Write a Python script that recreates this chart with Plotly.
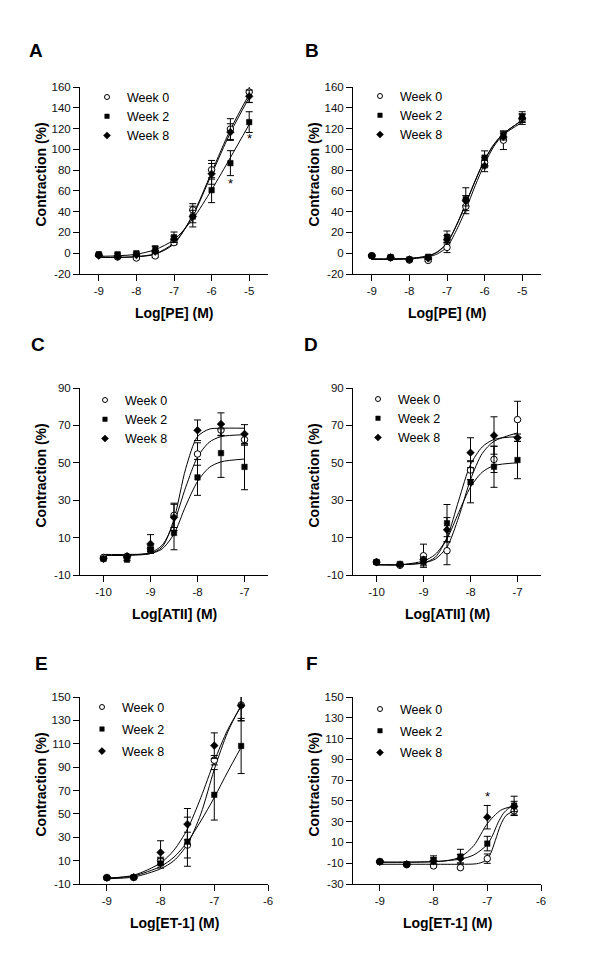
import plotly.graph_objects as go

W, H = 600, 959
FONT = "Arial, Liberation Sans, Helvetica, sans-serif"
WEEKS = ["Week 0", "Week 2", "Week 8"]

# ---------------- Panel A : PE ----------------
A_x = [-9, -8.5, -8, -7.5, -7, -6.5, -6, -5.5, -5]
A_w0 = [-1.7, -3.6, -4.6, -2.6, 10.2, 41.7, 80.3, 119.5, 155.2]
A_w2 = [-1.0, -1.0, 0.0, 4.7, 15.4, 35.3, 60.7, 86.7, 126.2]
A_w8 = [-2.3, -3.3, -1.7, 1.5, 13.4, 35.3, 76.4, 116.6, 151.0]
A_e0 = [1, 1, 1, 1.5, 2, 6, 9, 10, 10]
A_e2 = [1, 1, 1, 2, 5, 6, 12, 12, 10]
A_e8 = [1, 1, 1, 1.5, 3, 10, 10, 8, 6]
A_fx = [-9, -8.5, -8, -7.5, -7, -6.5, -6, -5.5, -5]
A_f0 = [-4, -4, -3.5, -1, 9, 37, 78, 119, 153]
A_f2 = [-3, -2.5, -1, 3.5, 13, 33, 61, 92, 124]
A_f8 = [-4, -4, -3.2, -0.5, 10, 36, 76, 116, 150]

# ---------------- Panel B : PE ----------------
B_x = [-9, -8.5, -8, -7.5, -7, -6.5, -6, -5.5, -5]
B_w0 = [-2.4, -4.3, -6.6, -6.9, 5.6, 45.0, 87.3, 108.8, 129.0]
B_w2 = [-2.4, -3.7, -5.9, -3.4, 15.9, 52.0, 92.0, 113.9, 131.2]
B_w8 = [-2.5, -4.0, -6.0, -5.0, 13.0, 50.5, 84.0, 112.0, 130.0]
B_e0 = [1, 1, 1, 1, 5, 7, 5, 9, 5]
B_e2 = [1, 1, 1, 1, 5.5, 11, 6.5, 3, 5]
B_e8 = [1, 1, 1, 1, 4, 5, 5.5, 3, 4]
B_fx = [-9, -8.5, -8, -7.5, -7.25, -7, -6.75, -6.5, -6.25, -6, -5.75, -5.5, -5]
B_f0 = [-6, -6, -5.5, -3.5, -0.5, 6, 22, 42, 65, 86, 103, 114, 126]
B_f2 = [-5.5, -5.5, -5, -2.5, 1.5, 10, 27, 48, 70, 90, 105, 115, 128]
B_f8 = [-5.5, -5.5, -5, -2.7, 1.2, 9.5, 26.5, 47.5, 69.5, 89.5, 104.5, 115, 128]

# ---------------- Panel C : ATII ----------------
C_x = [-10, -9.5, -9, -8.5, -8, -7.5, -7]
C_w0 = [-0.6, 0.0, 4.1, 21.9, 54.7, 67.5, 62.4]
C_w2 = [-1.4, -1.8, 3.5, 12.5, 42.2, 55.2, 47.8]
C_w8 = [-1.3, 0.0, 6.6, 20.8, 67.4, 70.7, 65.4]
C_e0 = [0.5, 0.5, 1.5, 6.5, 6, 3, 3]
C_e2 = [0.5, 0.5, 1, 9, 9.6, 13, 12.2]
C_e8 = [0.5, 0.5, 5, 7, 5.5, 6, 5]
C_fx = [-10, -9.5, -9, -8.75, -8.5, -8.25, -8, -7.75, -7.5, -7]
C_f0 = [0.5, 0.6, 2, 6, 18, 37, 53, 61, 64, 65]
C_f2 = [1, 1, 1.5, 4, 12, 27, 40, 47.5, 50.5, 52]
C_f8 = [0.5, 0.5, 1.5, 5, 20, 47, 64, 68, 68.5, 68.5]

# ---------------- Panel D : ATII ----------------
D_x = [-10, -9.5, -9, -8.5, -8, -7.5, -7]
D_w0 = [-3.1, -4.8, 0.3, 3.0, 46.1, 51.8, 73.1]
D_w2 = [-3.1, -4.1, -3.1, 17.7, 39.6, 47.9, 51.5]
D_w8 = [-3.1, -4.5, -1.8, 14.2, 55.4, 64.6, 63.4]
D_e0 = [1, 0.5, 6.2, 7.5, 5, 7, 9.8]
D_e2 = [0.5, 0.5, 2, 10, 11, 11, 10]
D_e8 = [0.5, 0.5, 1.5, 6.5, 8, 10, 2]
D_fx = [-10, -9.5, -9, -8.75, -8.5, -8.25, -8, -7.75, -7.5, -7]
D_f0 = [-4.5, -4.5, -3.5, -1.5, 5, 21, 41, 55, 61.5, 66]
D_f2 = [-4.5, -4.5, -2.5, 1, 9.5, 23.5, 37, 45, 48.5, 50]
D_f8 = [-4.5, -4.5, -3.5, -0.5, 10, 30, 49, 58.5, 62.5, 64]

# ---------------- Panel E : ET-1 ----------------
E_x = [-9, -8.5, -8, -7.5, -7, -6.5]
E_w0 = [-4.6, -4.3, 9.9, 23.3, 95.9, 143.2]
E_w2 = [-4.6, -4.3, 7.6, 26.2, 66.3, 108.1]
E_w8 = [-4.6, -4.3, 17.0, 41.2, 108.4, 142.6]
E_e0 = [1, 1, 3, 11, 4, 13.5]
E_e2 = [1, 1, 4, 21, 21.6, 23.6]
E_e8 = [1, 1, 10, 13.4, 10.9, 13]
E_fx = [-9, -8.5, -8, -7.75, -7.5, -7.25, -7, -6.75, -6.5]
E_f0 = [-5.5, -4, 3, 10, 24, 50, 88, 120, 143]
E_f2 = [-5, -3, 5, 13, 26, 44, 64, 86, 107]
E_f8 = [-5, -2.5, 8, 19, 37, 64, 95, 122, 142]

# ---------------- Panel F : ET-1 ----------------
F_x = [-9, -8.5, -8, -7.5, -7, -6.5]
F_w0 = [-8.5, -11.4, -12.6, -14.3, -5.6, 40.4]
F_w2 = [-8.5, -11.0, -6.9, -3.6, 8.9, 45.5]
F_w8 = [-8.5, -11.0, -7.8, -5.6, 34.3, 44.6]
F_e0 = [1, 1, 1, 1, 4.5, 4.5]
F_e2 = [1, 1, 4, 7, 7, 9]
F_e8 = [1, 1, 3, 4, 11.3, 5]
F_f0x = [-9, -8, -7.5, -7.2, -7.05, -6.95, -6.85, -6.75, -6.65, -6.5]
F_f0 = [-11, -11, -11, -10.5, -8, -2, 12, 27, 36, 40.5]
F_f2x = [-9, -8.5, -8, -7.5, -7.25, -7, -6.9, -6.8, -6.7, -6.6, -6.5]
F_f2 = [-9, -9, -8.5, -6, -2, 8, 17, 29, 38, 43, 45.5]
F_f8x = [-9, -8.5, -8, -7.75, -7.5, -7.25, -7, -6.75, -6.5]
F_f8 = [-9, -9, -8.5, -7.5, -4, 7, 28, 41, 45]

# significance markers
A_star_x = [-5.5, -5.0]
A_star_y = [66.8, 110.8]
F_star_x = [-7.0]
F_star_y = [54.0]

panels = [
    dict(letter="A", xt="Log[PE] (M)", x=A_x, m=[A_w0, A_w2, A_w8], e=[A_e0, A_e2, A_e8],
         fx=[A_fx, A_fx, A_fx], f=[A_f0, A_f2, A_f8],
         xr=[-9.5, -4.5], xtv=[-9, -8, -7, -6, -5], yr=[-20, 160], ytv=list(range(-20, 161, 20)),
         stars=(A_star_x, A_star_y)),
    dict(letter="B", xt="Log[PE] (M)", x=B_x, m=[B_w0, B_w2, B_w8], e=[B_e0, B_e2, B_e8],
         fx=[B_fx, B_fx, B_fx], f=[B_f0, B_f2, B_f8],
         xr=[-9.5, -4.5], xtv=[-9, -8, -7, -6, -5], yr=[-20, 160], ytv=list(range(-20, 161, 20)),
         stars=None),
    dict(letter="C", xt="Log[ATII] (M)", x=C_x, m=[C_w0, C_w2, C_w8], e=[C_e0, C_e2, C_e8],
         fx=[C_fx, C_fx, C_fx], f=[C_f0, C_f2, C_f8],
         xr=[-10.5, -6.5], xtv=[-10, -9, -8, -7], yr=[-10, 90], ytv=[-10, 10, 30, 50, 70, 90],
         stars=None),
    dict(letter="D", xt="Log[ATII] (M)", x=D_x, m=[D_w0, D_w2, D_w8], e=[D_e0, D_e2, D_e8],
         fx=[D_fx, D_fx, D_fx], f=[D_f0, D_f2, D_f8],
         xr=[-10.5, -6.5], xtv=[-10, -9, -8, -7], yr=[-10, 90], ytv=[-10, 10, 30, 50, 70, 90],
         stars=None),
    dict(letter="E", xt="Log[ET-1] (M)", x=E_x, m=[E_w0, E_w2, E_w8], e=[E_e0, E_e2, E_e8],
         fx=[E_fx, E_fx, E_fx], f=[E_f0, E_f2, E_f8],
         xr=[-9.5, -6], xtv=[-9, -8, -7, -6], yr=[-10, 150], ytv=list(range(-10, 151, 20)),
         stars=None),
    dict(letter="F", xt="Log[ET-1] (M)", x=F_x, m=[F_w0, F_w2, F_w8], e=[F_e0, F_e2, F_e8],
         fx=[F_f0x, F_f2x, F_f8x], f=[F_f0, F_f2, F_f8],
         xr=[-9.5, -6], xtv=[-9, -8, -7, -6], yr=[-30, 150], ytv=list(range(-30, 151, 20)),
         stars=(F_star_x, F_star_y)),
]

# layout geometry (pixels)
cols = [(80, 268), (353, 541)]
rows = [(87, 274), (388, 575), (697, 884)]
letter_pos = [(36, 50), (312, 50), (38, 344), (311, 344), (41, 663), (312, 663)]
legend_pos = [  # (marker x, first row centre y)
    (107, 97), (380, 96), (105, 400), (378, 399), (102, 707), (380, 709)
]
legend_gap = [0, 0, 0, 0, 2.8, 2.5]
LEG_FONT = 12.5

def px(x):
    return x / W

def py(y):
    return 1 - y / H

MARK = [
    dict(symbol="circle", size=6.5, color="white", line=dict(color="black", width=1)),
    dict(symbol="square", size=5.5, color="black", line=dict(color="black", width=0.5)),
    dict(symbol="diamond", size=6, color="black", line=dict(color="black", width=0.5)),
]
LEGMARK = [
    dict(symbol="circle", size=5, color="white", line=dict(color="black", width=1)),
    dict(symbol="square", size=4.5, color="black", line=dict(color="black", width=0.5)),
    dict(symbol="diamond", size=5.5, color="black", line=dict(color="black", width=0.5)),
]

fig = go.Figure()
annotations = []
layout = {}

for i, p in enumerate(panels):
    n = i + 1
    xa = "x" if n == 1 else f"x{n}"
    ya = "y" if n == 1 else f"y{n}"
    leg = "legend" if n == 1 else f"legend{n}"
    c0, c1 = cols[i % 2]
    r0, r1 = rows[i // 2]

    # fitted curves
    for k in range(3):
        fig.add_trace(go.Scatter(
            x=p["fx"][k], y=p["f"][k], mode="lines", xaxis=xa, yaxis=ya,
            line=dict(color="black", width=1, shape="spline", smoothing=0.8),
            showlegend=False, hoverinfo="skip", cliponaxis=False))
    # data points with SEM
    for k in range(3):
        fig.add_trace(go.Scatter(
            x=p["x"], y=p["m"][k], mode="markers", xaxis=xa, yaxis=ya,
            marker=MARK[k],
            error_y=dict(type="data", array=p["e"][k], color="black", thickness=1, width=3.5),
            showlegend=False, cliponaxis=False, name=WEEKS[k]))
    # legend entries
    for k in range(3):
        fig.add_trace(go.Scatter(
            x=[None], y=[None], mode="markers", xaxis=xa, yaxis=ya,
            marker=LEGMARK[k], name=WEEKS[k], legend=leg,
            legendgroup=f"{p['letter']}{k}", showlegend=True))
    # stars
    if p["stars"]:
        for sx, sy in zip(*p["stars"]):
            annotations.append(dict(x=sx, y=sy, xref=xa, yref=ya, text="*", showarrow=False,
                                    xanchor="center", yanchor="middle",
                                    font=dict(family=FONT, size=13, color="black")))

    axis_common = dict(showgrid=False, zeroline=False, showline=True, linecolor="black",
                       linewidth=1, ticks="outside", ticklen=6, tickwidth=1, tickcolor="black",
                       tickfont=dict(family=FONT, size=11.5, color="#111"), fixedrange=True,
                       automargin=False)
    layout[("xaxis" if n == 1 else f"xaxis{n}")] = dict(
        axis_common, domain=[px(c0), px(c1)], range=p["xr"], tickvals=p["xtv"],
        ticktext=[str(v) for v in p["xtv"]], anchor=ya)
    layout[("yaxis" if n == 1 else f"yaxis{n}")] = dict(
        axis_common, domain=[py(r1), py(r0)], range=p["yr"], tickvals=p["ytv"],
        ticktext=[str(v) for v in p["ytv"]], anchor=xa)

    mx, my = legend_pos[i]
    item_h = max(LEG_FONT * 1.3, 16) + 3
    layout[leg] = dict(x=px(mx - 20), y=py(my - item_h / 2 - 5), xanchor="left", yanchor="top",
                       bgcolor="rgba(0,0,0,0)", borderwidth=0,
                       font=dict(family=FONT, size=LEG_FONT, color="black"),
                       tracegroupgap=legend_gap[i], itemclick=False, itemdoubleclick=False)

    # panel letter
    lx, ly = letter_pos[i]
    annotations.append(dict(x=px(lx), y=py(ly), xref="paper", yref="paper",
                            xanchor="center", yanchor="middle",
                            text=f"<b>{p['letter']}</b>", showarrow=False,
                            font=dict(family=FONT, size=19, color="black")))
    # axis titles
    annotations.append(dict(x=px((c0 + c1) / 2), y=py(r1 + 39), xref="paper", yref="paper",
                            xanchor="center", yanchor="middle",
                            text=f"<b>{p['xt']}</b>", showarrow=False,
                            font=dict(family=FONT, size=14, color="black")))
    annotations.append(dict(x=px(c0 - 40), y=py((r0 + r1) / 2 - 6), xref="paper", yref="paper",
                            xanchor="center", yanchor="middle",
                            text="<b>Contraction (%)</b>", showarrow=False, textangle=-90,
                            font=dict(family=FONT, size=14, color="black")))

fig.update_layout(
    width=W, height=H, margin=dict(l=0, r=0, t=0, b=0, autoexpand=False),
    paper_bgcolor="white", plot_bgcolor="white", hovermode=False,
    annotations=annotations, **layout)

fig.write_html("out.html", config={"displayModeBar": False, "staticPlot": False},
               post_script="document.body.style.margin='0px';")
